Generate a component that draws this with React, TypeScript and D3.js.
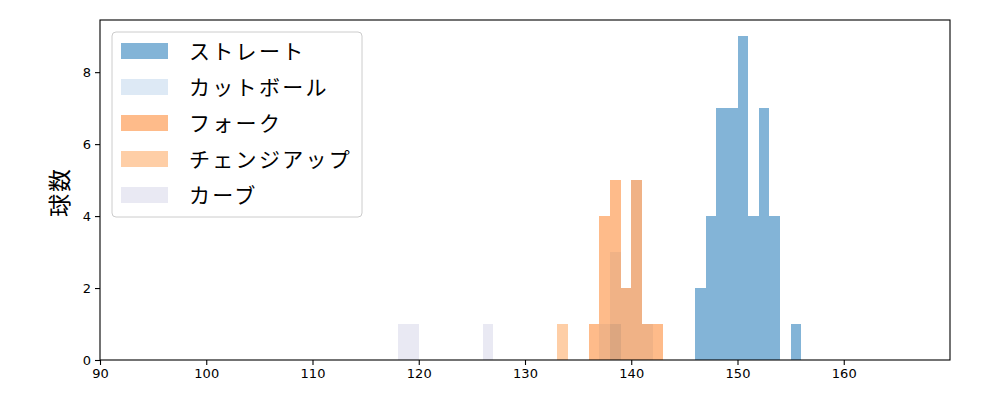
import { useEffect, useRef } from "react";
import * as d3 from "d3";

// pitch types (draw order = legend order)
const pitchNames = ["ストレート", "カットボール", "フォーク", "チェンジアップ", "カーブ"];
const pitchColors = ["#3182bd", "#c6dbef", "#fd8d3c", "#fdae6b", "#dadaeb"];

// histogram bins: left edge (km/h, width 1) and count
const straightBins = [138, 146, 147, 148, 149, 150, 151, 152, 153, 155];
const straightCounts = [1, 2, 4, 7, 7, 9, 4, 7, 4, 1];
const cutBins = [137, 138, 139, 140, 141];
const cutCounts = [1, 3, 2, 5, 1];
const forkBins = [136, 137, 138, 139, 140, 141, 142];
const forkCounts = [1, 4, 5, 2, 5, 1, 1];
const changeBins = [133];
const changeCounts = [1];
const curveBins = [118, 119, 126];
const curveCounts = [1, 1, 1];

const xTicks = [90, 100, 110, 120, 130, 140, 150, 160];
const yTicks = [0, 2, 4, 6, 8];

const App = () => {
  const ref = useRef<SVGSVGElement | null>(null);

  useEffect(() => {
    if (!ref.current) return;
    const svg = d3.select(ref.current);
    svg.selectAll("*").remove();

    const width = 1000,
      height = 400,
      margin = { top: 20, right: 50, bottom: 40, left: 100 };
    const font = "'DejaVu Sans', 'Noto Sans CJK JP', sans-serif";

    const x = d3.scaleLinear().domain([90, 170]).range([margin.left, width - margin.right]);
    const y = d3.scaleLinear().domain([0, 9.45]).range([height - margin.bottom, margin.top]);

    const series = [
      { bins: straightBins, counts: straightCounts },
      { bins: cutBins, counts: cutCounts },
      { bins: forkBins, counts: forkCounts },
      { bins: changeBins, counts: changeCounts },
      { bins: curveBins, counts: curveCounts },
    ];

    series.forEach((s, i) => {
      svg
        .append("g")
        .attr("shape-rendering", "crispEdges")
        .selectAll("rect")
        .data(s.bins.map((b, j) => ({ b, c: s.counts[j] })))
        .enter()
        .append("rect")
        .attr("x", (d) => x(d.b))
        .attr("width", (d) => x(d.b + 1) - x(d.b))
        .attr("y", (d) => y(d.c))
        .attr("height", (d) => y(0) - y(d.c))
        .attr("fill", pitchColors[i])
        .attr("fill-opacity", 0.6);
    });

    const xAxis = svg
      .append("g")
      .attr("transform", `translate(0,${height - margin.bottom})`)
      .call(d3.axisBottom(x).tickValues(xTicks).tickSize(5).tickPadding(4).tickFormat(d3.format("d")));
    const yAxis = svg
      .append("g")
      .attr("transform", `translate(${margin.left},0)`)
      .call(d3.axisLeft(y).tickValues(yTicks).tickSize(5).tickPadding(4).tickFormat(d3.format("d")));
    [xAxis, yAxis].forEach((a) => {
      a.select(".domain").remove();
      a.selectAll("line").attr("stroke", "#000").attr("stroke-width", 1.1);
      a.selectAll("text").attr("font-family", font).attr("font-size", 13).attr("fill", "#000");
    });

    // frame
    svg
      .append("rect")
      .attr("x", margin.left)
      .attr("y", margin.top)
      .attr("width", width - margin.left - margin.right)
      .attr("height", height - margin.top - margin.bottom)
      .attr("fill", "none")
      .attr("stroke", "#000")
      .attr("stroke-width", 1.1);

    svg
      .append("text")
      .attr("transform", `translate(68,${(margin.top + height - margin.bottom) / 2 + 2}) rotate(-90)`)
      .attr("text-anchor", "middle")
      .attr("font-family", font)
      .attr("font-size", 23)
      .attr("letter-spacing", 2)
      .text("球数");

    // legend
    const lg = svg.append("g");
    lg.append("rect")
      .attr("x", 112)
      .attr("y", 32)
      .attr("width", 250)
      .attr("height", 185)
      .attr("rx", 4)
      .attr("fill", "#fff")
      .attr("fill-opacity", 0.8)
      .attr("stroke", "#ccc");
    pitchNames.forEach((name, i) => {
      const cy = 51 + i * 36;
      lg.append("rect")
        .attr("x", 121)
        .attr("y", cy - 8)
        .attr("width", 47)
        .attr("height", 16)
        .attr("fill", pitchColors[i])
        .attr("fill-opacity", 0.6);
      lg.append("text")
        .attr("x", 189)
        .attr("y", cy + 8)
        .attr("font-family", font)
        .attr("font-size", 21)
        .attr("letter-spacing", 2.3)
        .text(name);
    });
  }, []);

  return (
    <div style={{ position: "absolute", left: 0, top: 0 }}>
      <svg ref={ref} width={1000} height={400} style={{ display: "block" }}></svg>
    </div>
  );
};

export default App;
